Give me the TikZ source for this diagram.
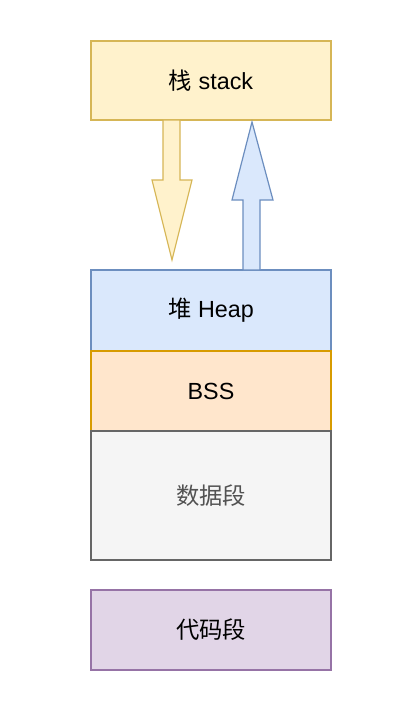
\documentclass[tikz,border=0pt]{standalone}
\usepackage{fontspec}
\setmainfont{Liberation Sans}
\newfontfamily\cjk{Noto Sans CJK SC}
\definecolor{ylwfill}{HTML}{FFF2CC}
\definecolor{ylwline}{HTML}{D6B656}
\definecolor{bluefill}{HTML}{DAE8FC}
\definecolor{blueline}{HTML}{6C8EBF}
\definecolor{orgfill}{HTML}{FFE6CC}
\definecolor{orgline}{HTML}{D79B00}
\definecolor{greyfill}{HTML}{F5F5F5}
\definecolor{greyline}{HTML}{666666}
\definecolor{purpfill}{HTML}{E1D5E7}
\definecolor{purpline}{HTML}{9673A6}
\begin{document}
\begin{tikzpicture}[x=0.75pt,y=-0.75pt,
    seg/.style={draw, line width=0.9pt, minimum width=180pt, inner sep=0pt, font=\fontsize{17.5}{20}\selectfont},
    blk/.style={line width=0.9pt, line join=miter}]
  \useasboundingbox (0,0) rectangle (404,706);
  % segments
  \node[seg, fill=ylwfill, draw=ylwline, minimum height=59.25pt] (stack) at (211,80.5) {{\cjk 栈} stack};
  \node[seg, fill=bluefill, draw=blueline, minimum height=60.75pt] (heap) at (211,310.5) {{\cjk 堆} Heap};
  \node[seg, fill=orgfill, draw=orgline, minimum height=60pt] (bss) at (211,391) {BSS};
  \node[seg, fill=greyfill, draw=greyline, minimum height=96.75pt, text=greyline!80!black] (data) at (211,495.5) {\cjk 数据段};
  \node[seg, fill=purpfill, draw=purpline, minimum height=60pt] (code) at (211,630) {\cjk 代码段};
  % growth arrows
  \draw[blk, fill=ylwfill, draw=ylwline] (163,120) -- (180,120) -- (180,180) -- (192,180)
      -- (172,260) -- (152,180) -- (163,180) -- cycle;
  \draw[blk, fill=bluefill, draw=blueline] (243,270) -- (260,270) -- (260,200) -- (273,200)
      -- (252,122) -- (232,200) -- (243,200) -- cycle;
\end{tikzpicture}
\end{document}
